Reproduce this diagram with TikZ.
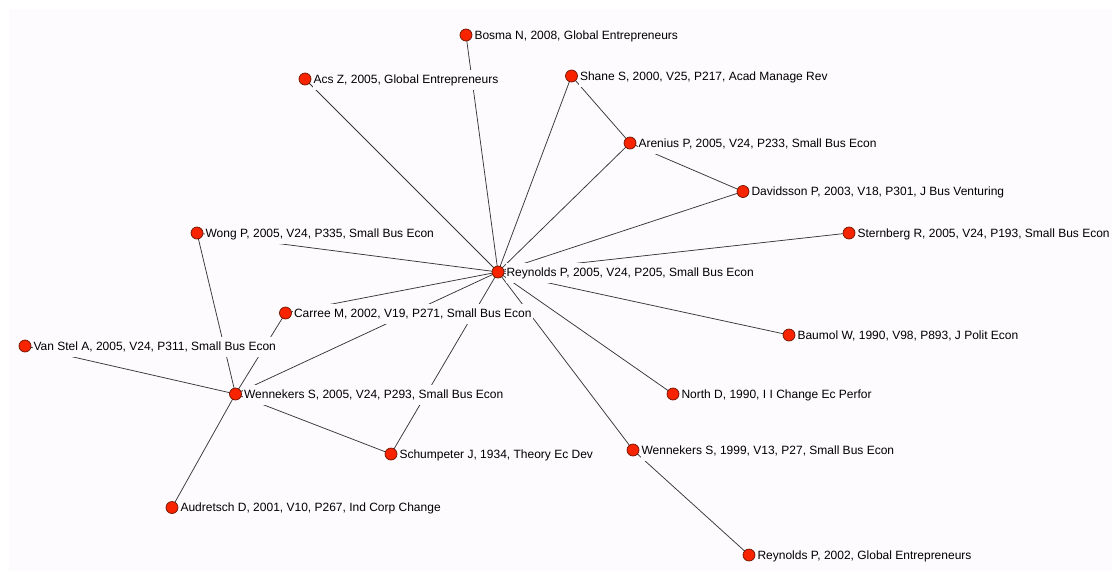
\documentclass[tikz,border=0pt]{standalone}
\usepackage{fontspec}
\setmainfont{Liberation Sans}
\pgfdeclarelayer{back}
\pgfdeclarelayer{edges}
\pgfsetlayers{back,edges,main}
\definecolor{bgc}{RGB}{253,251,254}
\definecolor{nodered}{RGB}{248,36,0}
\definecolor{nodeborder}{RGB}{110,20,0}
\definecolor{edgec}{RGB}{55,55,55}
\begin{document}
\begin{tikzpicture}[x=1pt,y=-1pt,
  vtx/.style={circle,fill=nodered,draw=nodeborder,line width=0.7pt,minimum size=12pt,inner sep=0pt},
  lbl/.style={fill=bgc,inner xsep=1pt,inner ysep=4pt,text height=9pt,text depth=3pt,
    font=\fontsize{12}{14}\selectfont,anchor=west,xshift=1pt,yshift=-1pt,label distance=0pt},
  edge/.style={draw=edgec,line width=0.75pt}]
\begin{pgfonlayer}{back}
\fill[white] (0,0) rectangle (1112,571);
\fill[bgc] (9,9) rectangle (1112,571);
\end{pgfonlayer}
\useasboundingbox (0,0) rectangle (1112,571);

\node[vtx,label={[lbl]0:{Bosma N, 2008, Global Entrepreneurs}}] (bosma) at (466,35) {};
\node[vtx,label={[lbl]0:{Acs Z, 2005, Global Entrepreneurs}}] (acs) at (305,79) {};
\node[vtx,label={[lbl]0:{Shane S, 2000, V25, P217, Acad Manage Rev}}] (shane) at (571.5,76) {};
\node[vtx,label={[lbl]0:{Arenius P, 2005, V24, P233, Small Bus Econ}}] (arenius) at (630,143) {};
\node[vtx,label={[lbl]0:{Davidsson P, 2003, V18, P301, J Bus Venturing}}] (davidsson) at (743,191.5) {};
\node[vtx,label={[lbl]0:{Sternberg R, 2005, V24, P193, Small Bus Econ}}] (sternberg) at (849,233) {};
\node[vtx,label={[lbl]0:{Wong P, 2005, V24, P335, Small Bus Econ}}] (wong) at (197,233) {};
\node[vtx,label={[lbl]0:{Reynolds P, 2005, V24, P205, Small Bus Econ}}] (rey05) at (498,272) {};
\node[vtx,label={[lbl]0:{Carree M, 2002, V19, P271, Small Bus Econ}}] (carree) at (285.5,313) {};
\node[vtx,label={[lbl]0:{Baumol W, 1990, V98, P893, J Polit Econ}}] (baumol) at (789,335) {};
\node[vtx,label={[lbl]0:{Van Stel A, 2005, V24, P311, Small Bus Econ}}] (vanstel) at (25,346) {};
\node[vtx,label={[lbl]0:{Wennekers S, 2005, V24, P293, Small Bus Econ}}] (wenn05) at (235.5,394) {};
\node[vtx,label={[lbl]0:{North D, 1990, I I Change Ec Perfor}}] (north) at (673,394) {};
\node[vtx,label={[lbl]0:{Wennekers S, 1999, V13, P27, Small Bus Econ}}] (wenn99) at (633,450) {};
\node[vtx,label={[lbl]0:{Schumpeter J, 1934, Theory Ec Dev}}] (schump) at (391,454) {};
\node[vtx,label={[lbl]0:{Audretsch D, 2001, V10, P267, Ind Corp Change}}] (audretsch) at (172,507.5) {};
\node[vtx,label={[lbl]0:{Reynolds P, 2002, Global Entrepreneurs}}] (rey02) at (749,555) {};

\begin{pgfonlayer}{edges}
\foreach \t in {bosma,acs,shane,arenius,davidsson,sternberg,wong,carree,baumol,north,wenn99,schump,wenn05}
  \draw[edge] (rey05.center) -- (\t.center);
\draw[edge] (shane.center) -- (arenius.center);
\draw[edge] (arenius.center) -- (davidsson.center);
\draw[edge] (wenn99.center) -- (rey02.center);
\foreach \t in {wong,carree,vanstel,audretsch,schump}
  \draw[edge] (wenn05.center) -- (\t.center);
\end{pgfonlayer}
\end{tikzpicture}
\end{document}
